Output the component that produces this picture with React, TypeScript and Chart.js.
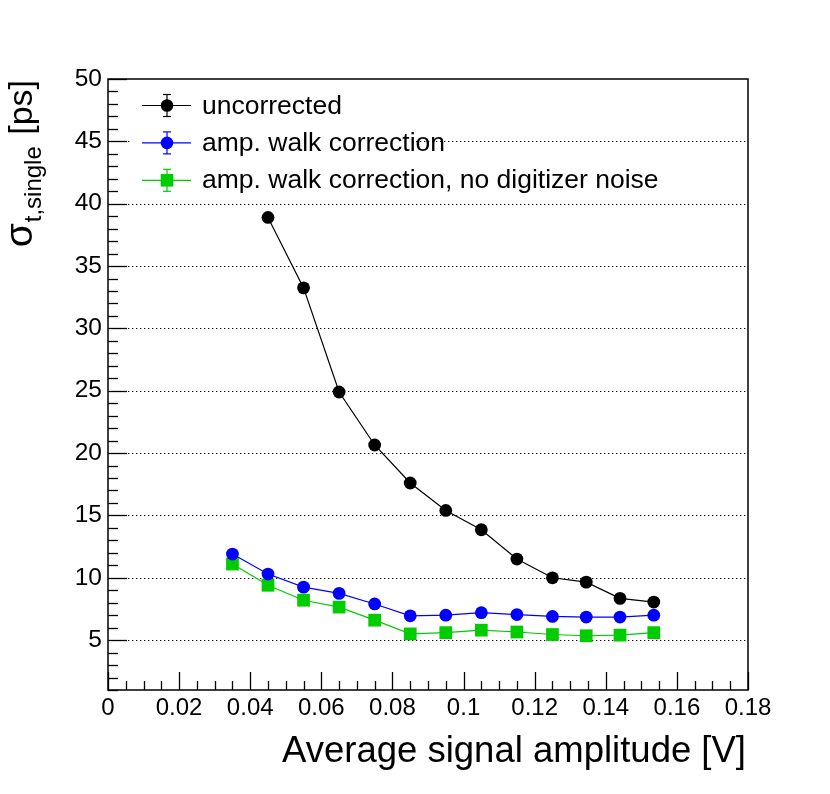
import { useEffect, useRef } from "react"
import { Chart, registerables } from "chart.js"

Chart.register(...registerables)

// values
const amplitude = [0.035, 0.045, 0.055, 0.065, 0.075, 0.085, 0.095, 0.105, 0.115, 0.125, 0.1345, 0.144, 0.1535]
const uncorrected = [null, 38.9, 33.25, 24.9, 20.65, 17.6, 15.4, 13.85, 11.5, 10.0, 9.65, 8.35, 8.05]
const ampWalk = [11.9, 10.3, 9.25, 8.75, 7.9, 6.95, 7.0, 7.2, 7.05, 6.9, 6.85, 6.85, 7.0]
const noNoise = [11.1, 9.4, 8.2, 7.65, 6.6, 5.5, 5.6, 5.8, 5.65, 5.45, 5.35, 5.4, 5.6]
const seriesNames = ["uncorrected", "amp. walk correction", "amp. walk correction, no digitizer noise"]
const xTicks = [0, 0.02, 0.04, 0.06, 0.08, 0.1, 0.12, 0.14, 0.16, 0.18]
const yTicks = [5, 10, 15, 20, 25, 30, 35, 40, 45, 50]

const FONT = "'Liberation Sans', Arial, sans-serif"

const toPoints = (ys: (number | null)[]) =>
  amplitude.map((x, i) => ({ x, y: ys[i] })).filter((p) => p.y !== null)

const line = (ctx: CanvasRenderingContext2D, x1: number, y1: number, x2: number, y2: number) => {
  ctx.beginPath()
  ctx.moveTo(x1, y1)
  ctx.lineTo(x2, y2)
  ctx.stroke()
}

// ROOT-like frame: dotted grid, inward ticks, box
const rootFrame = {
  id: "rootFrame",
  beforeDatasetsDraw(chart: any) {
    const { ctx, chartArea: a, scales } = chart
    const xs = scales.x
    const ys = scales.y
    ctx.save()
    ctx.strokeStyle = "#000"
    ctx.lineWidth = 1
    ctx.setLineDash([1.3, 2.7])
    for (const v of yTicks) {
      if (v >= ys.max) continue
      const py = Math.round(ys.getPixelForValue(v)) + 0.5
      line(ctx, a.left, py, a.right, py)
    }
    ctx.setLineDash([])
    ctx.lineWidth = 1.3
    for (let v = Math.ceil(ys.min); v <= ys.max; v += 1) {
      const py = Math.round(ys.getPixelForValue(v)) + 0.5
      const len = v % 5 === 0 ? 19 : 10
      line(ctx, a.left, py, a.left + len, py)
    }
    for (let k = 0; k * 0.005 <= xs.max + 1e-9; k++) {
      const px = Math.round(xs.getPixelForValue(k * 0.005)) + 0.5
      const len = k % 4 === 0 ? 18 : 9
      line(ctx, px, a.bottom, px, a.bottom - len)
    }
    ctx.restore()
  },
  afterDatasetsDraw(chart: any) {
    const { ctx, chartArea: a } = chart
    ctx.save()
    ctx.strokeStyle = "#000"
    ctx.lineWidth = 1.5
    ctx.strokeRect(a.left, a.top, a.right - a.left, a.bottom - a.top)
    ctx.restore()
  },
  afterDraw(chart: any) {
    const { ctx, chartArea: a } = chart
    ctx.save()
    // legend box (white fill, no border)
    ctx.fillStyle = "#fff"
    ctx.fillRect(131, 86, 282, 112)
    chart.data.datasets.forEach((ds: any, i: number) => {
      const cy = 105.5 + i * 37.4
      const cx = 167
      ctx.strokeStyle = ds.borderColor
      ctx.fillStyle = ds.pointBackgroundColor
      ctx.lineWidth = 1.2
      line(ctx, 142, cy, 191, cy)
      line(ctx, cx, cy - 11, cx, cy + 11)
      line(ctx, cx - 4, cy - 11, cx + 4, cy - 11)
      line(ctx, cx - 4, cy + 11, cx + 4, cy + 11)
      ctx.beginPath()
      if (ds.pointStyle === "rect") {
        ctx.rect(cx - 6.3, cy - 6.3, 12.6, 12.6)
      } else {
        ctx.arc(cx, cy, 6.3, 0, Math.PI * 2)
      }
      ctx.fill()
      ctx.fillStyle = "#000"
      ctx.font = `26.5px ${FONT}`
      ctx.textAlign = "left"
      ctx.textBaseline = "alphabetic"
      ctx.fillText(ds.label, 202, cy + 8)
    })

    // x title
    ctx.fillStyle = "#000"
    ctx.font = `36.5px ${FONT}`
    ctx.textAlign = "right"
    ctx.textBaseline = "alphabetic"
    ctx.fillText("Average signal amplitude [V]", a.right - 2, 762)

    // y title, rotated, right-aligned to the top of the axis
    ctx.translate(32, a.top + 1)
    ctx.rotate(-Math.PI / 2)
    ctx.textAlign = "left"
    ctx.font = `34px ${FONT}`
    const wUnit = ctx.measureText(" [ps]").width
    ctx.font = `24px ${FONT}`
    const wSub = ctx.measureText("t,single").width
    ctx.font = `39px ${FONT}`
    const wSig = ctx.measureText("σ").width
    let u = -(wUnit + wSub + wSig + 3)
    ctx.fillText("σ", u, 0)
    u += wSig + 1
    ctx.font = `24px ${FONT}`
    ctx.fillText("t,single", u, 9)
    u += wSub + 2
    ctx.font = `34px ${FONT}`
    ctx.fillText(" [ps]", u, 0)
    ctx.restore()
  },
}

export default function App() {
  const chartRef = useRef<HTMLCanvasElement>(null)
  const chartInstance = useRef<Chart | null>(null)

  useEffect(() => {
    document.body.style.margin = "0"
    if (!chartRef.current) return
    if (chartInstance.current) {
      chartInstance.current.destroy()
    }
    const ctx = chartRef.current.getContext("2d")
    if (!ctx) return

    const colors = ["#000000", "#0000ff", "#00cc00"]
    const values = [uncorrected, ampWalk, noNoise]

    chartInstance.current = new Chart(ctx, {
      type: "scatter",
      data: {
        datasets: values.map((ys, i) => ({
          label: seriesNames[i],
          data: toPoints(ys) as any,
          showLine: true,
          borderColor: colors[i],
          backgroundColor: colors[i],
          pointBackgroundColor: colors[i],
          pointBorderColor: colors[i],
          borderWidth: 1.2,
          pointStyle: i === 2 ? "rect" : "circle",
          pointRadius: i === 2 ? 9 : 6.4,
          pointBorderWidth: 0,
          tension: 0,
        })),
      },
      options: {
        animation: false,
        responsive: true,
        maintainAspectRatio: false,
        layout: { padding: { left: 0, top: 79, right: 82, bottom: 0 } },
        plugins: {
          legend: { display: false },
          tooltip: { enabled: false },
        },
        scales: {
          x: {
            type: "linear",
            min: 0,
            max: 0.18,
            grid: { display: false, drawTicks: false },
            border: { display: false },
            afterFit: (s: any) => {
              s.height = 104
            },
            afterBuildTicks: (s: any) => {
              s.ticks = xTicks.map((value) => ({ value }))
            },
            ticks: {
              color: "#000",
              padding: 4,
              font: { family: FONT, size: 24 },
              maxRotation: 0,
              autoSkip: false,
              callback: (v: any) => String(v),
            },
          },
          y: {
            type: "linear",
            min: 1,
            max: 50,
            grid: { display: false, drawTicks: false },
            border: { display: false },
            afterFit: (s: any) => {
              s.width = 108
            },
            afterBuildTicks: (s: any) => {
              s.ticks = yTicks.map((value) => ({ value }))
            },
            ticks: {
              color: "#000",
              padding: 6,
              font: { family: FONT, size: 24.5 },
              autoSkip: false,
              callback: (v: any) => String(v),
            },
          },
        },
      },
      plugins: [rootFrame],
    })

    return () => {
      if (chartInstance.current) {
        chartInstance.current.destroy()
        chartInstance.current = null
      }
    }
  }, [])

  return (
    <div style={{ position: "absolute", left: 0, top: 0, width: 830, height: 794, background: "#fff" }}>
      <canvas ref={chartRef} />
    </div>
  )
}
